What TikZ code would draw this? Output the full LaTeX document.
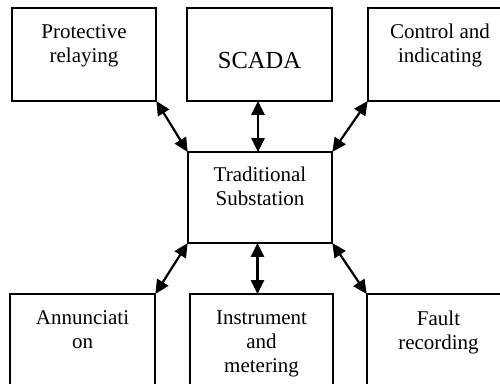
\documentclass[tikz,border=0pt]{standalone}
\usepackage{fontspec}
\setmainfont{Liberation Serif}
\usetikzlibrary{arrows.meta,positioning}
\begin{document}
\begin{tikzpicture}[x=1pt,y=1pt,
  box/.style={draw,line width=1.7pt,rectangle,minimum width=144pt,minimum height=93pt,inner sep=0pt},
  lbl/.style={anchor=north,inner sep=0pt,align=center,font=\fontsize{21}{24}\selectfont},
  conn/.style={line width=2.2pt,{Triangle[length=14pt,width=13pt]}-{Triangle[length=14pt,width=13pt]},shorten <=-1pt,shorten >=-1pt}]
\useasboundingbox (0,0) rectangle (500,-383);
\clip (0,0) rectangle (500,-383);
\node[box] (P) at (84,-54.5) {};
\node[box,minimum width=145pt] (S) at (259.5,-54.5) {};
\node[box] (C) at (440,-54.5) {};
\node[box,minimum height=91pt] (T) at (260,-197.5) {};
\node[box,minimum width=145pt] (A) at (82.5,-340.5) {};
\node[box,minimum width=143pt] (I) at (261.5,-340.5) {};
\node[box,minimum width=143pt] (F) at (438.5,-340.5) {};
\node[lbl] (Pt) at ([yshift=-17.5pt]P.north) {Protective\\relaying};
\node[lbl,font=\fontsize{24.5}{28}\selectfont] (St) at ([yshift=-44.5pt]S.north) {SCADA};
\node[lbl] (Ct) at ([yshift=-17pt]C.north) {Control and\\indicating};
\node[lbl] (Tt) at ([yshift=-16pt]T.north) {Traditional\\Substation};
\node[lbl] (At) at ([yshift=-17.5pt]A.north) {Annunciati\\on};
\node[lbl] (It) at ([yshift=-17.5pt]I.north) {Instrument\\and\\metering};
\node[lbl] (Ft) at ([yshift=-17.5pt]F.north) {Fault\\recording};
\draw[conn] (P.south east) -- (T.north west);
\draw[conn] ([xshift=-1.5pt]S.south) -- ([xshift=-2pt]T.north);
\draw[conn] (C.south west) -- (T.north east);
\draw[conn] (T.south west) -- (A.north east);
\draw[conn] ([xshift=-2.5pt]T.south) -- ([xshift=-4pt]I.north);
\draw[conn] (T.south east) -- (F.north west);
\end{tikzpicture}
\end{document}
